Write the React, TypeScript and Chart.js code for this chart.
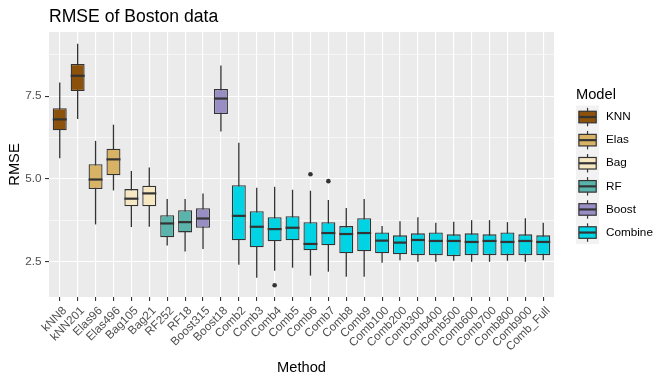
import React, { useEffect, useRef } from 'react';
import { Chart, registerables } from 'chart.js';

Chart.register(...registerables);

const FONT = "'Liberation Sans', Arial, sans-serif";

const methods = [
  'kNN8', 'kNN201', 'Elas96', 'Elas496', 'Bag105', 'Bag21', 'RF252', 'RF18', 'Boost315', 'Boost18',
  'Comb2', 'Comb3', 'Comb4', 'Comb5', 'Comb6', 'Comb7', 'Comb8', 'Comb9', 'Comb100', 'Comb200',
  'Comb300', 'Comb400', 'Comb500', 'Comb600', 'Comb700', 'Comb800', 'Comb900', 'Comb_Full',
];
const modelNames = ['KNN', 'Elas', 'Bag', 'RF', 'Boost', 'Combine'];
const modelColors = ['#8C510A', '#D8B365', '#F6E8C3', '#5AB4AC', '#998EC3', '#00D3E3'];
const methodModel = [0, 0, 1, 1, 2, 2, 3, 3, 4, 4, 5, 5, 5, 5, 5, 5, 5, 5, 5, 5, 5, 5, 5, 5, 5, 5, 5, 5];

const whiskerHigh = [7.92, 9.09, 6.15, 6.64, 5.24, 5.34, 4.39, 4.39, 4.56, 8.43, 6.09, 4.73, 4.76, 4.67, 4.64, 4.36, 4.12, 4.39, 3.57, 3.72, 3.84, 3.67, 3.70, 3.75, 3.75, 3.69, 3.81, 3.67];
const q3 = [7.14, 8.48, 5.44, 5.91, 4.69, 4.79, 3.90, 4.05, 4.11, 7.72, 4.81, 4.02, 3.84, 3.87, 3.69, 3.69, 3.57, 3.81, 3.38, 3.29, 3.35, 3.38, 3.32, 3.35, 3.32, 3.38, 3.32, 3.29];
const median = [6.80, 8.12, 4.98, 5.59, 4.40, 4.56, 3.65, 3.69, 3.80, 7.43, 3.88, 3.55, 3.48, 3.52, 3.03, 3.36, 3.33, 3.36, 3.13, 3.07, 3.15, 3.12, 3.12, 3.09, 3.12, 3.09, 3.12, 3.09];
const q1 = [6.47, 7.66, 4.69, 5.11, 4.17, 4.17, 3.23, 3.38, 3.52, 6.96, 3.14, 2.93, 3.11, 3.14, 2.84, 2.99, 2.75, 2.81, 2.75, 2.72, 2.69, 2.69, 2.66, 2.69, 2.69, 2.69, 2.69, 2.69];
const whiskerLow = [5.62, 6.81, 3.62, 4.65, 3.54, 3.55, 2.98, 2.80, 2.88, 6.43, 2.40, 2.01, 2.22, 2.31, 2.07, 2.19, 2.04, 2.04, 2.46, 2.54, 2.49, 2.49, 2.52, 2.49, 2.49, 2.52, 2.49, 2.54];

const outlierMethod = [12, 14, 15];
const outlierValue = [1.78, 5.14, 4.93];

const yTicks = [2.5, 3.75, 5, 6.25, 7.5, 8.75];
const yMajor = [2.5, 5, 7.5];
const isMajor = (v: number) => yMajor.some((m) => Math.abs(m - v) < 1e-6);

const overlayPlugin = {
  id: 'overlay',
  beforeDraw(chart: any) {
    const { ctx, chartArea: a } = chart;
    ctx.save();
    ctx.fillStyle = '#FFFFFF';
    ctx.fillRect(0, 0, chart.width, chart.height);
    ctx.fillStyle = '#EBEBEB';
    ctx.fillRect(a.left, a.top, a.right - a.left, a.bottom - a.top);
    ctx.restore();
  },
  afterDatasetsDraw(chart: any) {
    const { ctx } = chart;
    const meta = chart.getDatasetMeta(1);
    const ys = chart.scales.y;
    ctx.save();
    ctx.strokeStyle = '#333333';
    ctx.lineWidth = 2.2;
    meta.data.forEach((el: any, i: number) => {
      const y = ys.getPixelForValue(median[i]);
      ctx.beginPath();
      ctx.moveTo(el.x - el.width / 2, y);
      ctx.lineTo(el.x + el.width / 2, y);
      ctx.stroke();
    });
    ctx.restore();
  },
  afterDraw(chart: any) {
    const { ctx, chartArea: a } = chart;
    ctx.save();
    ctx.fillStyle = '#000000';
    ctx.font = `17.6px ${FONT}`;
    ctx.textAlign = 'left';
    ctx.textBaseline = 'alphabetic';
    ctx.fillText('RMSE of Boston data', a.left, 21.7);
    ctx.font = `14.67px ${FONT}`;
    ctx.fillText('Model', 576, 99);
    const kx = 576, ky0 = 105.5, ks = 23.1, kw = 23.1;
    ctx.fillStyle = '#F2F2F2';
    ctx.fillRect(kx, ky0, kw, ks * modelNames.length);
    modelNames.forEach((name, i) => {
      const top = ky0 + i * ks;
      const cx = kx + kw / 2;
      ctx.strokeStyle = '#333333';
      ctx.lineWidth = 1.2;
      ctx.beginPath();
      ctx.moveTo(cx, top + 0.1 * ks);
      ctx.lineTo(cx, top + 0.9 * ks);
      ctx.stroke();
      ctx.fillStyle = modelColors[i];
      ctx.fillRect(kx + 0.125 * kw, top + 0.25 * ks, 0.75 * kw, 0.5 * ks);
      ctx.strokeRect(kx + 0.125 * kw, top + 0.25 * ks, 0.75 * kw, 0.5 * ks);
      ctx.lineWidth = 2.2;
      ctx.beginPath();
      ctx.moveTo(kx + 0.125 * kw, top + 0.5 * ks);
      ctx.lineTo(kx + 0.875 * kw, top + 0.5 * ks);
      ctx.stroke();
      ctx.fillStyle = '#000000';
      ctx.font = `11.73px ${FONT}`;
      ctx.textBaseline = 'middle';
      ctx.fillText(name, 606, top + ks / 2);
      ctx.textBaseline = 'alphabetic';
    });
    ctx.restore();
  },
};

export default function App() {
  const ref = useRef<HTMLCanvasElement>(null);
  useEffect(() => {
    const boxColors = methods.map((_, i) => modelColors[methodModel[i]]);
    const chart = new Chart(ref.current as HTMLCanvasElement, {
      type: 'bar',
      data: {
        datasets: [
          {
            type: 'bar',
            label: 'whiskers',
            data: methods.map((_, i) => ({ x: i, y: [whiskerLow[i], whiskerHigh[i]] })) as any,
            backgroundColor: '#333333',
            barThickness: 1.3,
            grouped: false,
            order: 2,
            inflateAmount: 0,
          } as any,
          {
            type: 'bar',
            label: 'boxes',
            data: methods.map((_, i) => ({ x: i, y: [q1[i], q3[i]] })) as any,
            backgroundColor: boxColors,
            borderColor: '#333333',
            borderWidth: 1.3,
            borderSkipped: false,
            barPercentage: 0.78,
            categoryPercentage: 1,
            grouped: false,
            order: 1,
            inflateAmount: 0,
          } as any,
          {
            type: 'scatter',
            label: 'outliers',
            data: outlierMethod.map((m, i) => ({ x: m, y: outlierValue[i] })),
            backgroundColor: '#333333',
            borderWidth: 0,
            pointRadius: 2.3,
            order: 0,
          } as any,
        ],
      },
      options: {
        responsive: false,
        animation: false,
        events: [],
        layout: { padding: { top: 32, right: 112, left: 0, bottom: 0 } },
        plugins: { legend: { display: false }, tooltip: { enabled: false }, title: { display: false } },
        scales: {
          x: {
            type: 'linear',
            min: -0.6,
            max: 27.6,
            offset: false,
            afterBuildTicks: (s: any) => {
              s.ticks = methods.map((_, i) => ({ value: i }));
            },
            afterFit: (s: any) => {
              s.height = 87;
            },
            border: { display: false },
            grid: {
              color: '#FFFFFF',
              lineWidth: 1.1,
              offset: false,
              drawTicks: true,
              tickLength: 4,
              tickColor: '#333333',
              tickWidth: 1.1,
            },
            ticks: {
              autoSkip: false,
              minRotation: 45,
              maxRotation: 45,
              padding: 3,
              labelOffset: 5,
              color: '#4D4D4D',
              font: { family: FONT, size: 11.73 },
              callback: (v: any) => methods[Math.round(Number(v))] ?? '',
            },
            title: {
              display: true,
              text: 'Method',
              color: '#000000',
              font: { family: FONT, size: 14.67 },
              padding: { top: 0, bottom: 7.5 },
            },
          } as any,
          y: {
            type: 'linear',
            min: 1.424,
            max: 9.445,
            afterBuildTicks: (s: any) => {
              s.ticks = yTicks.map((v) => ({ value: v }));
            },
            afterFit: (s: any) => {
              s.width = 49;
            },
            border: { display: false },
            grid: {
              color: '#FFFFFF',
              lineWidth: (c: any) => (c.tick && isMajor(c.tick.value) ? 1.1 : 0.55),
              drawTicks: true,
              tickLength: 4,
              tickColor: (c: any) => (c.tick && isMajor(c.tick.value) ? '#333333' : 'rgba(0,0,0,0)'),
              tickWidth: 1.1,
            },
            ticks: {
              padding: 3.5,
              color: '#4D4D4D',
              font: { family: FONT, size: 11.73 },
              callback: (v: any) => (isMajor(Number(v)) ? Number(v).toFixed(1) : ''),
            },
            title: {
              display: true,
              text: 'RMSE',
              color: '#000000',
              font: { family: FONT, size: 14.67 },
              padding: { top: 6, bottom: 0 },
            },
          } as any,
        },
      },
      plugins: [overlayPlugin],
    } as any);
    return () => chart.destroy();
  }, []);
  return (
    <div style={{ position: 'absolute', left: 0, top: 0, width: 666, height: 384, background: '#FFFFFF' }}>
      <canvas ref={ref} width={666} height={384} style={{ display: 'block', width: 666, height: 384 }} />
    </div>
  );
}
